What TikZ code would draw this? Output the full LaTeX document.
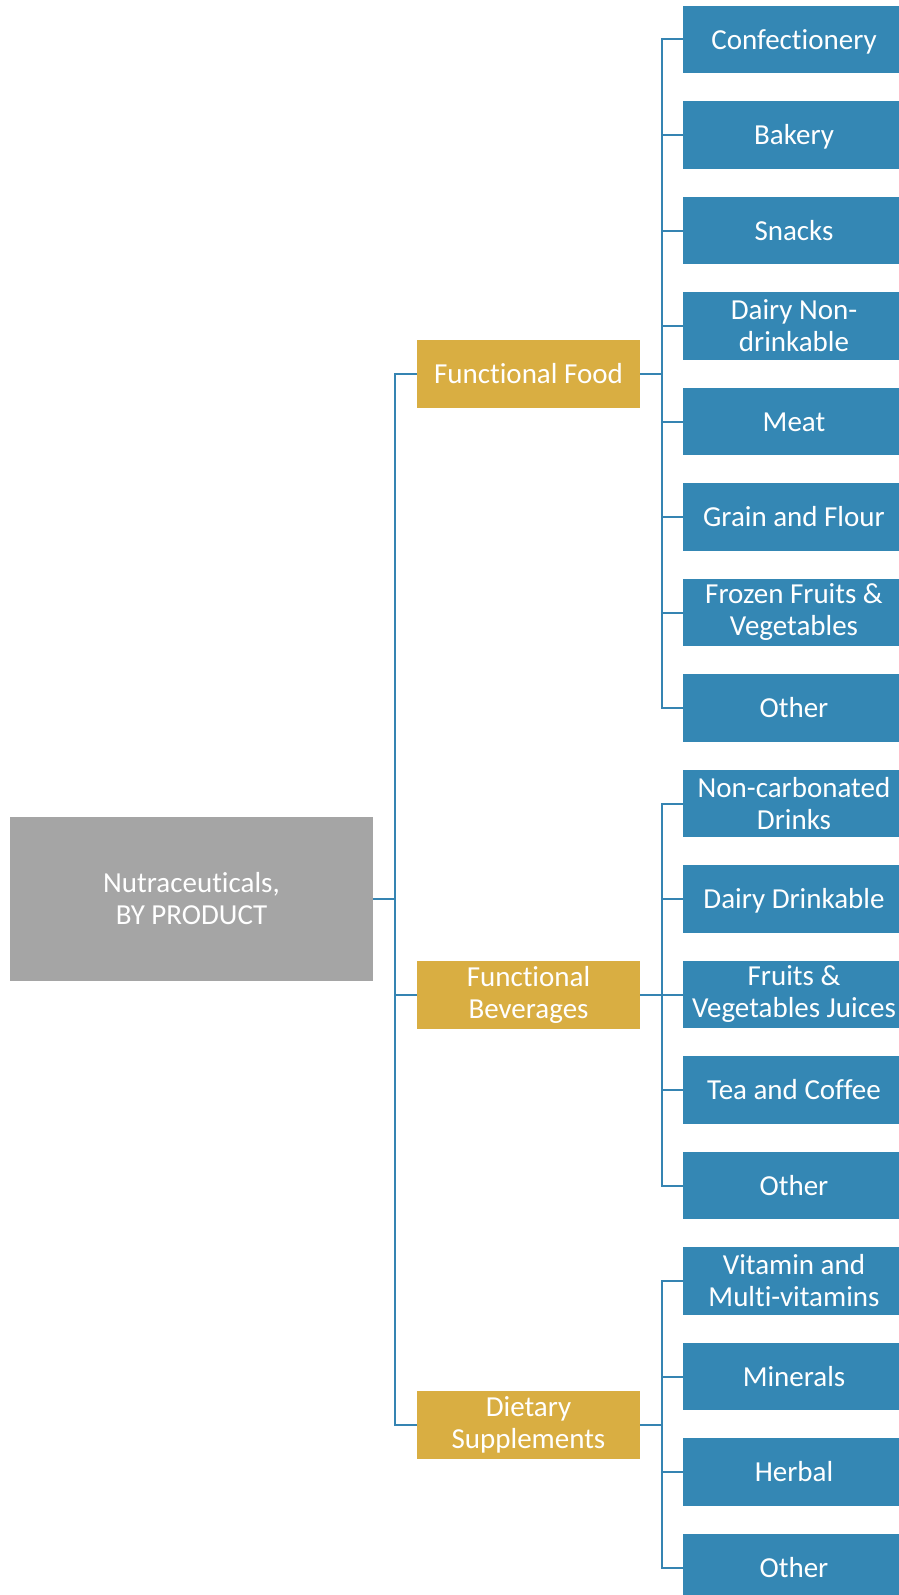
\documentclass[tikz,border=0pt]{standalone}
\usepackage{fontspec}
\setmainfont{Carlito}[Ligatures=NoCommon]
\definecolor{rootgrey}{HTML}{A5A5A5}
\definecolor{catgold}{HTML}{D9AE42}
\definecolor{leafblue}{HTML}{3487B4}
\definecolor{linkblue}{HTML}{3584B2}
\tikzset{
  boxbase/.style={rectangle, inner sep=0pt, text=white, align=center,
    font=\fontsize{29}{32}\selectfont},
  oneline/.style={text height=25pt, text depth=5.6pt},
  rootbox/.style={boxbase, fill=rootgrey, minimum width=363pt, minimum height=164pt},
  catbox/.style={boxbase, fill=catgold, minimum width=223pt, minimum height=68pt},
  leafbox/.style={boxbase, fill=leafblue, minimum width=222pt, minimum height=67.5pt},
  link/.style={draw=linkblue, line width=2pt}
}
\begin{document}
\begin{tikzpicture}[x=1pt, y=-1pt]
\useasboundingbox (0,0) rectangle (899,1595);
\clip (0,0) rectangle (899,1595);
\fill[white] (0,0) rectangle (899,1595);

% root
\node[rootbox] (root) at (191.5,899) {Nutraceuticals,\\BY PRODUCT};

% categories
\node[catbox, oneline] (ff) at (528.5,374) {Functional Food};
\node[catbox] (fb) at (528.5,995) {Functional\\Beverages};
\node[catbox] (ds) at (528.5,1425) {Dietary\\Supplements};

% leaves (pitch 95.5)
\node[leafbox, oneline] (l0)  at (794,39.5)   {Confectionery};
\node[leafbox, oneline] (l1)  at (794,135)    {Bakery};
\node[leafbox, oneline] (l2)  at (794,230.5)  {Snacks};
\node[leafbox]          (l3)  at (794,326)    {Dairy Non-\\drinkable};
\node[leafbox, oneline] (l4)  at (794,421.5)  {Meat};
\node[leafbox, oneline] (l5)  at (794,517)    {Grain and Flour};
\node[leafbox]          (l6)  at (794,612.5)  {Frozen Fruits \&\\Vegetables};
\node[leafbox, oneline] (l7)  at (794,708)    {Other};
\node[leafbox]          (l8)  at (794,803.5)  {Non-carbonated\\Drinks};
\node[leafbox, oneline] (l9)  at (794,899)    {Dairy Drinkable};
\node[leafbox]          (l10) at (794,994.5)  {Fruits \&\\Vegetables Juices};
\node[leafbox, oneline] (l11) at (794,1090)   {Tea and Coffee};
\node[leafbox, oneline] (l12) at (794,1185.5) {Other};
\node[leafbox]          (l13) at (794,1281)   {Vitamin and\\Multi-vitamins};
\node[leafbox, oneline] (l14) at (794,1376.5) {Minerals};
\node[leafbox, oneline] (l15) at (794,1472)   {Herbal};
\node[leafbox, oneline] (l16) at (794,1567.5) {Other};

% root to categories
\foreach \c in {ff,fb,ds}
  \draw[link] (\c.west) -- ++(-22,0) |- (root.east);

% categories to leaves
\foreach \l in {l0,l1,l2,l3,l4,l5,l6,l7}
  \draw[link] (\l.west) -- ++(-21,0) |- (ff.east);
\foreach \l in {l8,l9,l10,l11,l12}
  \draw[link] (\l.west) -- ++(-21,0) |- (fb.east);
\foreach \l in {l13,l14,l15,l16}
  \draw[link] (\l.west) -- ++(-21,0) |- (ds.east);
\end{tikzpicture}
\end{document}
